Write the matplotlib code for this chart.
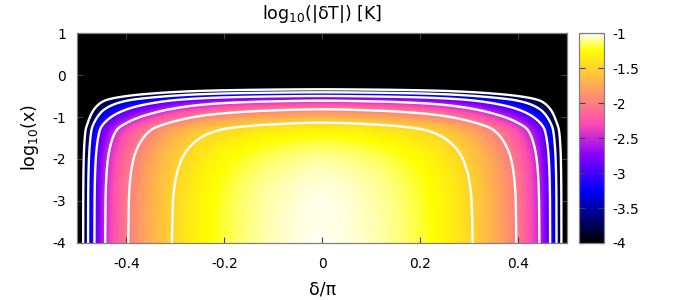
import numpy as np
import matplotlib
matplotlib.use('Agg')
import matplotlib.pyplot as plt
from matplotlib.colors import ListedColormap

# profile of log10(|dT|) across delta/pi (offset from centre value)
delta_pts = [0.0, 0.1, 0.2, 0.25, 0.307, 0.35, 0.396, 0.443, 0.465, 0.478, 0.488, 0.5]
delta_vals = [0.0, -0.05, -0.17, -0.28, -0.48, -0.69, -0.98, -1.48, -1.98, -2.48, -2.98, -5.0]

# profile along log10(x) at delta = 0
logx_pts = [-4.0, -3.0, -2.5, -2.0, -1.6, -1.3, -1.136, -0.817, -0.612, -0.5, -0.412, -0.34, -0.2, 1.0]
logx_vals = [-1.02, -1.03, -1.05, -1.1, -1.19, -1.32, -1.5, -2.0, -2.5, -3.0, -3.5, -4.0, -5.0, -10.0]

levels = [-4, -3.5, -3, -2.5, -2, -1.5]
cb_ticks = [-4, -3.5, -3, -2.5, -2, -1.5, -1]


def pchip(xk, yk, x):
    # monotone cubic through the read points, just to get round contour corners
    xk = np.asarray(xk, float)
    yk = np.asarray(yk, float)
    h = np.diff(xk)
    dk = np.diff(yk) / h
    m = np.zeros_like(yk)
    m[0], m[-1] = dk[0], dk[-1]
    for k in range(1, len(xk) - 1):
        if dk[k-1] * dk[k] > 0:
            w1 = 2*h[k] + h[k-1]
            w2 = h[k] + 2*h[k-1]
            m[k] = (w1 + w2) / (w1/dk[k-1] + w2/dk[k])
    i = np.clip(np.searchsorted(xk, x) - 1, 0, len(xk) - 2)
    s = (x - xk[i]) / h[i]
    h00 = 2*s**3 - 3*s**2 + 1
    h10 = s**3 - 2*s**2 + s
    h01 = -2*s**3 + 3*s**2
    h11 = s**3 - s**2
    return h00*yk[i] + h10*h[i]*m[i] + h01*yk[i+1] + h11*h[i]*m[i+1]


# gnuplot palette rgbformulae 30,31,32 (black-blue-violet-yellow-white)
t = np.linspace(0, 1, 256)
r = np.clip(t/0.32 - 0.78125, 0, 1)
g = np.clip(2*t - 0.84, 0, 1)
b = np.where(t < 0.25, 4*t, np.where(t < 0.42, 1.0, np.where(t < 0.92, -2*t + 1.84, t/0.08 - 11.5)))
b = np.clip(b, 0, 1)
cmap = ListedColormap(np.column_stack([r, g, b]))

# symmetric in delta
dp = np.concatenate([-np.array(delta_pts[:0:-1]), delta_pts])
dv = np.concatenate([delta_vals[:0:-1], delta_vals])

d = np.linspace(-0.5, 0.5, 1201)
y = np.linspace(-4, 1, 801)
A = pchip(dp, dv, d)
B = pchip(logx_pts, logx_vals, y)
Z = B[:, None] + A[None, :]

fig = plt.figure(figsize=(7, 3), dpi=100)
ax = fig.add_axes([0.1104, 0.19, 0.700, 0.70])
cax = fig.add_axes([0.8276, 0.19, 0.0349, 0.70])

im = ax.imshow(Z, extent=[-0.5, 0.5, -4, 1], origin='lower', aspect='auto',
               cmap=cmap, vmin=-4, vmax=-1, interpolation='bilinear')
ax.contour(d, y, Z, levels=levels, colors='white', linewidths=1.7, linestyles='solid')

ax.set_xlim(-0.5, 0.5)
ax.set_ylim(-4, 1)
ax.set_xticks([-0.4, -0.2, 0, 0.2, 0.4])
ax.set_xticklabels(['-0.4', '-0.2', '0', '0.2', '0.4'])
ax.set_yticks([-4, -3, -2, -1, 0, 1])
ax.set_yticklabels(['-4', '-3', '-2', '-1', '0', '1'])
ax.tick_params(direction='in', top=True, right=True, length=4, width=0.8,
               color='#404040', labelsize=10)
ax.tick_params(axis='x', pad=10)
ax.tick_params(axis='y', pad=8)
for s in ax.spines.values():
    s.set_color('#808080')
    s.set_linewidth(0.9)

ax.set_xlabel('δ/π', fontsize=12.5, labelpad=7)
ax.set_ylabel(r'log$_{10}$(x)', fontsize=12.5, labelpad=8)
ax.set_title(r'log$_{10}$(|δT|) [K]', fontsize=12.5, pad=10)

cb = fig.colorbar(im, cax=cax, ticks=cb_ticks)
cb.ax.set_yticklabels(['-4', '-3.5', '-3', '-2.5', '-2', '-1.5', '-1'])
cb.ax.tick_params(direction='in', left=True, right=True, length=4, width=0.8,
                  color='#404040', labelsize=10, pad=6)
cb.outline.set_edgecolor('#808080')
cb.outline.set_linewidth(0.9)

fig.savefig('out.png', dpi=100)
